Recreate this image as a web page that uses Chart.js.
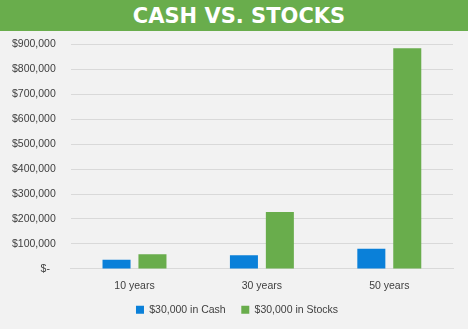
<!DOCTYPE html>
<html>
<head>
<meta charset="utf-8">
<script src="https://cdn.jsdelivr.net/npm/chart.js@4/dist/chart.umd.min.js"></script>
<style>
  html, body { margin: 0; padding: 0; background: #f2f2f2; overflow: hidden; }
  #title {
    position: relative; z-index: 1;
    width: 458px; height: 31px; background: #69ad4c; color: #fff; padding-left: 10px;
    font: bold 21px "DejaVu Sans", sans-serif; text-align: center; line-height: 32px;
  }
  #wrap { width: 468px; height: 306px; margin-top: -8px; position: relative; }
</style>
</head>
<body>
<div id="title">CASH VS. STOCKS</div>
<div id="wrap"><canvas id="myChart"></canvas></div>
<script>
const categories = ["10 years", "30 years", "50 years"];
const seriesNames = ["$30,000 in Cash", "$30,000 in Stocks"];
const cashValues = [36600, 54300, 80700];
const stockValues = [59000, 228400, 883800];
const yTicks = [0, 100000, 200000, 300000, 400000, 500000, 600000, 700000, 800000, 900000];

const tickFont = { family: "Liberation Sans", size: 10.5 };

// nudge the legend to the right, like the original
const legendShift = {
  id: "legendShift",
  afterLayout(chart) {
    chart.legend.left += 12;
    chart.legend.right += 12;
  },
};

const ctx = document.getElementById("myChart");
new Chart(ctx, {
  type: "bar",
  data: {
    labels: categories,
    datasets: [
      {
        label: seriesNames[0],
        data: cashValues,
        backgroundColor: "#0a80d9",
        categoryPercentage: 0.564,
        barPercentage: 0.78,
      },
      {
        label: seriesNames[1],
        data: stockValues,
        backgroundColor: "#69ad4c",
        categoryPercentage: 0.564,
        barPercentage: 0.78,
      },
    ],
  },
  options: {
    responsive: true,
    maintainAspectRatio: false,
    animation: false,
    layout: { padding: { top: 2, right: 15, left: -3, bottom: 4 } },
    scales: {
      x: {
        grid: { display: false, drawTicks: false },
        border: { color: "#d9d9d9" },
        ticks: { color: "#404040", font: tickFont, padding: 11 },
      },
      y: {
        min: yTicks[0],
        max: yTicks[yTicks.length - 1],
        afterBuildTicks: (axis) => { axis.ticks = yTicks.map((v) => ({ value: v })); },
        grid: { color: "#d9d9d9", drawTicks: false },
        border: { display: false },
        ticks: {
          color: "#404040",
          font: tickFont,
          padding: 15,
          callback: (v) => (v === 0 ? "$-  " : "$" + v.toLocaleString("en-US")),
        },
      },
    },
    plugins: {
      legend: {
        position: "bottom",
        labels: {
          boxWidth: 8, boxHeight: 8, color: "#404040", font: tickFont, padding: 1,
          generateLabels: (c) => {
            const items = Chart.defaults.plugins.legend.labels.generateLabels(c);
            items[0].text += "     ";
            return items;
          },
        },
      },
      tooltip: { enabled: false },
    },
  },
  plugins: [legendShift],
});
</script>
</body>
</html>
